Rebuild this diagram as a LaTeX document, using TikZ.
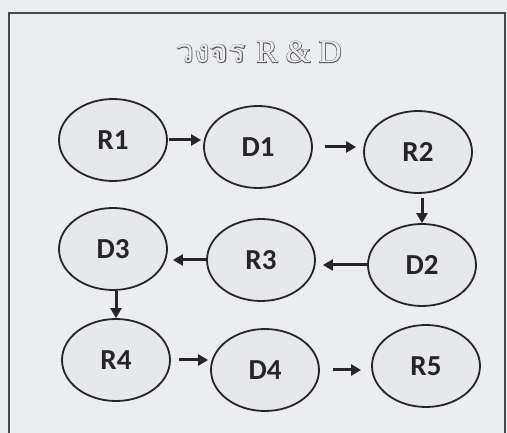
\documentclass[tikz,border=0pt]{standalone}
\usepackage{fontspec}
\usepackage{tikz}
\usetikzlibrary{shapes.geometric,arrows.meta}
\setmainfont{Carlito}
\newfontfamily\thaiout[Script=Thai,FakeBold=4]{Loma}
\newfontfamily\thaiin[Script=Thai]{Loma}
\newfontfamily\latout[FakeBold=4]{Liberation Serif}
\newfontfamily\latin{Liberation Serif}
\definecolor{paper}{HTML}{ECEDF1}
\definecolor{bubble}{HTML}{E7E8EC}
\definecolor{ink}{HTML}{262626}

\begin{document}
\begin{tikzpicture}[x=1pt, y=-1pt,
	every node/.style={ellipse, draw=ink, line width=1.8pt, fill=bubble, text=ink,
		minimum width=108pt, minimum height=82pt, inner sep=0pt,
		font=\fontsize{29}{32}\selectfont\bfseries},
	every path/.style={draw=ink, line width=3pt},
	flow/.style={-{Triangle[length=10pt,width=11pt]}}]
				\useasboundingbox[fill=paper, draw=none] (0,0) rectangle (507,433);
				\path[draw=ink!85, line width=2pt] (9,445) -- (9,13) -- (505,13) -- (505,445);
				
				% title, drawn hollow
				\node[draw=none, fill=none, text=ink!75, font=\fontsize{32}{36}\selectfont, minimum size=0pt] (titleout) at (259,52) {\thaiout วงจร \latout R \& D};
				\node[draw=none, fill=none, text=paper, font=\fontsize{32}{36}\selectfont, minimum size=0pt] (title) at (259,52) {\thaiin วงจร \latin R \& D};
				
				\node (r1) at (113,140) {R1};
				\node (d1) at (258,147) {D1};
				\node (r2) at (418,152) {R2};
				\node (d3) at (113,249) {D3};
				\node (r3) at (261,260) {R3};
				\node (d2) at (422,265) {D2};
				\node (r4) at (116,360) {R4};
				\node (d4) at (265,370) {D4};
				\node (r5) at (426,366) {R5};
				
				\path[flow, shorten <=1pt, shorten >=2pt] (r1.east) -- (r1.east -| d1.west);
				\path[flow, shorten <=12pt, shorten >=7pt] (d1.east) -- (d1.east -| r2.west);
				\path[flow, shorten <=4pt] (r2.south -| d2.north) -- (d2.north);
				\path[flow, shorten >=7pt] (d2.west) -- (d2.west -| r3.east);
				\path[flow, shorten >=5pt] (r3.west) -- (r3.west -| d3.east);
				\path[flow] (d3.south -| r4.north) -- (r4.north);
				\path[flow, shorten <=8pt, shorten >=2pt] (r4.east) -- (r4.east -| d4.west);
				\path[flow, shorten <=13pt, shorten >=10pt] (d4.east) -- (d4.east -| r5.west);
				\end{tikzpicture}
\end{document}
